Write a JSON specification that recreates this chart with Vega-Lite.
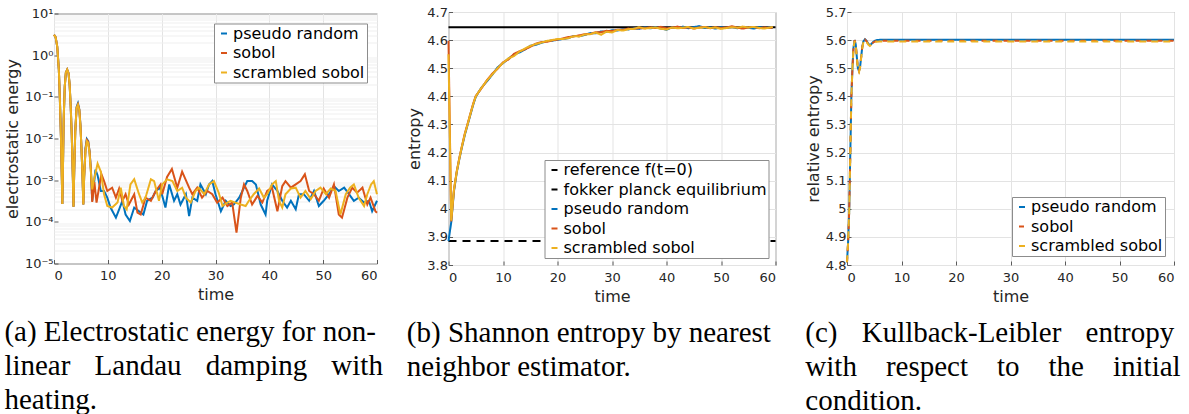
{
 "$schema": "https://vega.github.io/schema/vega-lite/v6.json",
 "background": "white",
 "padding": {"left": 3, "top": 5, "right": 5, "bottom": 0},
 "bounds": "flush",
 "spacing": 71.5,
 "center": true,
 "config": {
  "view": {"stroke": "#8c8c8c", "strokeWidth": 1},
  "axis": {"labelFont": "DejaVu Sans", "labelFontSize": 13, "labelColor": "#262626", "titleFont": "DejaVu Sans", "titleFontSize": 16, "titleFontWeight": "normal", "titleColor": "#262626", "domain": false, "grid": true, "gridColor": "#e3e3e3", "tickColor": "#5a5a5a", "tickSize": -4, "labelPadding": 5},
  "axisX": {"titlePadding": 4, "labelPadding": 10},
  "axisY": {"titlePadding": 4},
  "legend": {"labelFont": "DejaVu Sans", "labelFontSize": 16, "labelColor": "black", "symbolType": "stroke", "symbolStrokeWidth": 2, "symbolSize": 36, "padding": 2, "rowPadding": 3.5, "labelOffset": 1, "fillColor": "white", "strokeColor": "#8c8c8c", "labelLimit": 400},
  "title": {"font": "Liberation Serif", "fontSize": 29, "fontWeight": "normal", "color": "black", "orient": "bottom", "anchor": "start", "frame": "bounds", "lineHeight": 34, "offset": 15},
  "line": {"strokeWidth": 2}
 },
 "resolve": {"scale": {"x": "independent", "y": "independent", "color": "independent", "strokeDash": "independent"}, "legend": {"color": "independent"}},
 "hconcat": [
  {
   "width": 323, "height": 250,
   "title": {"text": ["(a) Electrostatic energy for non-", "linear\u2002\u2004Landau\u2002\u2004damping\u2002\u2004with", "heating."]},
   "data": {"values": [
    {"s":"pseudo random","t":0,"v":3.1},{"s":"pseudo random","t":0.3,"v":2.7},{"s":"pseudo random","t":0.6,"v":1.6},{"s":"pseudo random","t":0.9,"v":0.45},{"s":"pseudo random","t":1.1,"v":0.08},{"s":"pseudo random","t":1.3,"v":0.01},{"s":"pseudo random","t":1.45,"v":0.0012},{"s":"pseudo random","t":1.55,"v":0.00027},{"s":"pseudo random","t":1.65,"v":0.0015},{"s":"pseudo random","t":1.8,"v":0.03},{"s":"pseudo random","t":2.0,"v":0.18},{"s":"pseudo random","t":2.2,"v":0.38},{"s":"pseudo random","t":2.45,"v":0.45},{"s":"pseudo random","t":2.7,"v":0.37},{"s":"pseudo random","t":2.9,"v":0.2},{"s":"pseudo random","t":3.1,"v":0.06},{"s":"pseudo random","t":3.3,"v":0.012},{"s":"pseudo random","t":3.5,"v":0.0012},{"s":"pseudo random","t":3.62,"v":0.00023},{"s":"pseudo random","t":3.75,"v":0.0015},{"s":"pseudo random","t":3.95,"v":0.015},{"s":"pseudo random","t":4.2,"v":0.057},{"s":"pseudo random","t":4.45,"v":0.07},{"s":"pseudo random","t":4.7,"v":0.05},{"s":"pseudo random","t":4.9,"v":0.022},{"s":"pseudo random","t":5.1,"v":0.006},{"s":"pseudo random","t":5.3,"v":0.0012},{"s":"pseudo random","t":5.45,"v":0.00026},{"s":"pseudo random","t":5.6,"v":0.0012},{"s":"pseudo random","t":5.85,"v":0.0058},{"s":"pseudo random","t":6.1,"v":0.0097},{"s":"pseudo random","t":6.35,"v":0.0087},{"s":"pseudo random","t":6.6,"v":0.005},{"s":"pseudo random","t":6.85,"v":0.0018},
    {"s":"pseudo random","t":7.1,"v":0.00032},{"s":"pseudo random","t":7.7,"v":0.0018},{"s":"pseudo random","t":8.1,"v":0.0013},{"s":"pseudo random","t":8.7,"v":0.00055},{"s":"pseudo random","t":9.3,"v":0.00055},{"s":"pseudo random","t":9.9,"v":0.00038},{"s":"pseudo random","t":10.5,"v":0.00022},{"s":"pseudo random","t":11.5,"v":0.000126},{"s":"pseudo random","t":12.1,"v":0.0002},{"s":"pseudo random","t":12.7,"v":0.00032},{"s":"pseudo random","t":13.3,"v":0.00015},{"s":"pseudo random","t":14.1,"v":0.000105},{"s":"pseudo random","t":14.9,"v":0.00022},{"s":"pseudo random","t":15.8,"v":0.00018},{"s":"pseudo random","t":16.6,"v":0.00015},{"s":"pseudo random","t":17.3,"v":0.00032},{"s":"pseudo random","t":18.3,"v":0.00038},{"s":"pseudo random","t":18.9,"v":0.00055},{"s":"pseudo random","t":19.7,"v":0.00066},{"s":"pseudo random","t":20.7,"v":0.00022},{"s":"pseudo random","t":21.4,"v":0.00079},{"s":"pseudo random","t":22.3,"v":0.00032},{"s":"pseudo random","t":22.9,"v":0.00046},{"s":"pseudo random","t":23.5,"v":0.00026},{"s":"pseudo random","t":24.5,"v":0.00046},{"s":"pseudo random","t":25.1,"v":0.000138},{"s":"pseudo random","t":25.7,"v":0.00038},{"s":"pseudo random","t":26.6,"v":0.00032},{"s":"pseudo random","t":27.2,"v":0.00079},{"s":"pseudo random","t":28.2,"v":0.00046},{"s":"pseudo random","t":28.8,"v":0.00079},{"s":"pseudo random","t":29.4,"v":0.00095},{"s":"pseudo random","t":30.0,"v":0.00046},{"s":"pseudo random","t":31.0,"v":0.00018},{"s":"pseudo random","t":31.9,"v":0.00032},{"s":"pseudo random","t":32.8,"v":0.00024},{"s":"pseudo random","t":33.4,"v":0.00026},{"s":"pseudo random","t":34.4,"v":0.00038},{"s":"pseudo random","t":35.3,"v":0.00066},{"s":"pseudo random","t":35.9,"v":0.00095},{"s":"pseudo random","t":36.8,"v":0.00095},{"s":"pseudo random","t":37.5,"v":0.00079},{"s":"pseudo random","t":38.4,"v":0.00026},{"s":"pseudo random","t":39.3,"v":0.00015},{"s":"pseudo random","t":39.6,"v":0.00032},{"s":"pseudo random","t":40.5,"v":0.00079},{"s":"pseudo random","t":41.5,"v":0.00055},{"s":"pseudo random","t":42.4,"v":0.00032},{"s":"pseudo random","t":43.3,"v":0.00022},{"s":"pseudo random","t":44.0,"v":0.00032},{"s":"pseudo random","t":44.9,"v":0.0002},{"s":"pseudo random","t":45.5,"v":0.00046},{"s":"pseudo random","t":46.4,"v":0.00046},{"s":"pseudo random","t":47.4,"v":0.00032},{"s":"pseudo random","t":48.3,"v":0.00055},{"s":"pseudo random","t":49.2,"v":0.00024},{"s":"pseudo random","t":50.1,"v":0.00032},{"s":"pseudo random","t":51.1,"v":0.00046},{"s":"pseudo random","t":52.0,"v":0.00072},{"s":"pseudo random","t":52.9,"v":0.00055},{"s":"pseudo random","t":53.9,"v":0.00066},{"s":"pseudo random","t":54.8,"v":0.00046},{"s":"pseudo random","t":55.7,"v":0.00032},{"s":"pseudo random","t":56.6,"v":0.00038},{"s":"pseudo random","t":57.6,"v":0.00029},{"s":"pseudo random","t":58.5,"v":0.00032},{"s":"pseudo random","t":59.1,"v":0.00018},{"s":"pseudo random","t":60,"v":0.00032},
    {"s":"sobol","t":0,"v":3.1},{"s":"sobol","t":0.3,"v":2.7},{"s":"sobol","t":0.6,"v":1.6},{"s":"sobol","t":0.9,"v":0.45},{"s":"sobol","t":1.1,"v":0.08},{"s":"sobol","t":1.3,"v":0.01},{"s":"sobol","t":1.45,"v":0.0012},{"s":"sobol","t":1.55,"v":0.00027},{"s":"sobol","t":1.65,"v":0.0015},{"s":"sobol","t":1.8,"v":0.03},{"s":"sobol","t":2.0,"v":0.18},{"s":"sobol","t":2.2,"v":0.38},{"s":"sobol","t":2.45,"v":0.45},{"s":"sobol","t":2.7,"v":0.37},{"s":"sobol","t":2.9,"v":0.2},{"s":"sobol","t":3.1,"v":0.06},{"s":"sobol","t":3.3,"v":0.012},{"s":"sobol","t":3.5,"v":0.0012},{"s":"sobol","t":3.62,"v":0.00023},{"s":"sobol","t":3.75,"v":0.0015},{"s":"sobol","t":3.95,"v":0.015},{"s":"sobol","t":4.2,"v":0.055},{"s":"sobol","t":4.45,"v":0.066},{"s":"sobol","t":4.7,"v":0.05},{"s":"sobol","t":4.9,"v":0.022},{"s":"sobol","t":5.1,"v":0.006},{"s":"sobol","t":5.3,"v":0.0012},{"s":"sobol","t":5.45,"v":0.00026},{"s":"sobol","t":5.6,"v":0.0012},{"s":"sobol","t":5.85,"v":0.0055},{"s":"sobol","t":6.1,"v":0.0092},{"s":"sobol","t":6.35,"v":0.0084},{"s":"sobol","t":6.6,"v":0.005},{"s":"sobol","t":6.85,"v":0.0018},
    {"s":"sobol","t":7.1,"v":0.0003},{"s":"sobol","t":7.5,"v":0.0009},{"s":"sobol","t":7.9,"v":0.00029},{"s":"sobol","t":8.8,"v":0.0014},{"s":"sobol","t":9.3,"v":0.00095},{"s":"sobol","t":9.9,"v":0.00055},{"s":"sobol","t":10.8,"v":0.00066},{"s":"sobol","t":11.5,"v":0.00038},{"s":"sobol","t":12.1,"v":0.00063},{"s":"sobol","t":12.7,"v":0.00032},{"s":"sobol","t":13.3,"v":0.00046},{"s":"sobol","t":13.9,"v":0.00026},{"s":"sobol","t":14.9,"v":0.00046},{"s":"sobol","t":15.5,"v":0.000166},{"s":"sobol","t":16.1,"v":0.00015},{"s":"sobol","t":17.0,"v":0.00038},{"s":"sobol","t":18.0,"v":0.00032},{"s":"sobol","t":18.9,"v":0.00055},{"s":"sobol","t":19.8,"v":0.00079},{"s":"sobol","t":20.1,"v":0.00046},{"s":"sobol","t":21.0,"v":0.0012},{"s":"sobol","t":21.9,"v":0.00185},{"s":"sobol","t":22.9,"v":0.00066},{"s":"sobol","t":23.8,"v":0.0016},{"s":"sobol","t":25.1,"v":0.00066},{"s":"sobol","t":25.7,"v":0.00046},{"s":"sobol","t":26.6,"v":0.00066},{"s":"sobol","t":27.5,"v":0.00038},{"s":"sobol","t":28.5,"v":0.00055},{"s":"sobol","t":29.4,"v":0.00046},{"s":"sobol","t":30.3,"v":0.00029},{"s":"sobol","t":31.3,"v":0.00038},{"s":"sobol","t":32.2,"v":0.00024},{"s":"sobol","t":33.1,"v":0.00029},{"s":"sobol","t":33.9,"v":0.000055},{"s":"sobol","t":34.7,"v":0.00038},{"s":"sobol","t":35.3,"v":0.00079},{"s":"sobol","t":35.9,"v":0.00055},{"s":"sobol","t":36.8,"v":0.00026},{"s":"sobol","t":37.8,"v":0.00042},{"s":"sobol","t":38.7,"v":0.00029},{"s":"sobol","t":39.6,"v":0.00055},{"s":"sobol","t":40.5,"v":0.00066},{"s":"sobol","t":41.5,"v":0.00018},{"s":"sobol","t":42.4,"v":0.00072},{"s":"sobol","t":43.0,"v":0.00095},{"s":"sobol","t":44.0,"v":0.00066},{"s":"sobol","t":44.9,"v":0.00079},{"s":"sobol","t":45.8,"v":0.00095},{"s":"sobol","t":46.6,"v":0.00138},{"s":"sobol","t":47.4,"v":0.00055},{"s":"sobol","t":48.3,"v":0.00046},{"s":"sobol","t":49.2,"v":0.00032},{"s":"sobol","t":50.1,"v":0.00063},{"s":"sobol","t":51.1,"v":0.00038},{"s":"sobol","t":52.0,"v":0.00079},{"s":"sobol","t":52.9,"v":0.00015},{"s":"sobol","t":53.5,"v":0.000126},{"s":"sobol","t":54.5,"v":0.00038},{"s":"sobol","t":55.4,"v":0.00066},{"s":"sobol","t":56.3,"v":0.0005},{"s":"sobol","t":57.3,"v":0.00066},{"s":"sobol","t":58.2,"v":0.00026},{"s":"sobol","t":58.8,"v":0.00038},{"s":"sobol","t":59.7,"v":0.00018},{"s":"sobol","t":60,"v":0.000166},
    {"s":"scrambled sobol","t":0,"v":3.1},{"s":"scrambled sobol","t":0.3,"v":2.7},{"s":"scrambled sobol","t":0.6,"v":1.6},{"s":"scrambled sobol","t":0.9,"v":0.45},{"s":"scrambled sobol","t":1.1,"v":0.08},{"s":"scrambled sobol","t":1.3,"v":0.01},{"s":"scrambled sobol","t":1.45,"v":0.0012},{"s":"scrambled sobol","t":1.55,"v":0.00027},{"s":"scrambled sobol","t":1.65,"v":0.0015},{"s":"scrambled sobol","t":1.8,"v":0.03},{"s":"scrambled sobol","t":2.0,"v":0.18},{"s":"scrambled sobol","t":2.2,"v":0.38},{"s":"scrambled sobol","t":2.45,"v":0.45},{"s":"scrambled sobol","t":2.7,"v":0.37},{"s":"scrambled sobol","t":2.9,"v":0.2},{"s":"scrambled sobol","t":3.1,"v":0.06},{"s":"scrambled sobol","t":3.3,"v":0.012},{"s":"scrambled sobol","t":3.5,"v":0.0012},{"s":"scrambled sobol","t":3.62,"v":0.00023},{"s":"scrambled sobol","t":3.75,"v":0.0015},{"s":"scrambled sobol","t":3.95,"v":0.015},{"s":"scrambled sobol","t":4.2,"v":0.054},{"s":"scrambled sobol","t":4.45,"v":0.064},{"s":"scrambled sobol","t":4.7,"v":0.048},{"s":"scrambled sobol","t":4.9,"v":0.021},{"s":"scrambled sobol","t":5.1,"v":0.006},{"s":"scrambled sobol","t":5.3,"v":0.0012},{"s":"scrambled sobol","t":5.45,"v":0.00026},{"s":"scrambled sobol","t":5.6,"v":0.0012},{"s":"scrambled sobol","t":5.85,"v":0.0052},{"s":"scrambled sobol","t":6.1,"v":0.0086},{"s":"scrambled sobol","t":6.35,"v":0.0078},{"s":"scrambled sobol","t":6.6,"v":0.0045},{"s":"scrambled sobol","t":6.85,"v":0.0016},
    {"s":"scrambled sobol","t":7.1,"v":0.0006},{"s":"scrambled sobol","t":7.4,"v":0.001},{"s":"scrambled sobol","t":8.1,"v":0.0025},{"s":"scrambled sobol","t":8.7,"v":0.0016},{"s":"scrambled sobol","t":9.3,"v":0.00046},{"s":"scrambled sobol","t":9.9,"v":0.00024},{"s":"scrambled sobol","t":10.8,"v":0.00022},{"s":"scrambled sobol","t":11.8,"v":0.00029},{"s":"scrambled sobol","t":12.4,"v":0.00066},{"s":"scrambled sobol","t":13.0,"v":0.00024},{"s":"scrambled sobol","t":13.5,"v":0.0002},{"s":"scrambled sobol","t":14.2,"v":0.00079},{"s":"scrambled sobol","t":14.9,"v":0.00105},{"s":"scrambled sobol","t":15.8,"v":0.00046},{"s":"scrambled sobol","t":16.4,"v":0.00029},{"s":"scrambled sobol","t":17.0,"v":0.00038},{"s":"scrambled sobol","t":18.0,"v":0.00105},{"s":"scrambled sobol","t":18.6,"v":0.00095},{"s":"scrambled sobol","t":19.5,"v":0.00032},{"s":"scrambled sobol","t":20.1,"v":0.00079},{"s":"scrambled sobol","t":21.0,"v":0.00105},{"s":"scrambled sobol","t":22.0,"v":0.00095},{"s":"scrambled sobol","t":22.9,"v":0.00055},{"s":"scrambled sobol","t":23.8,"v":0.00066},{"s":"scrambled sobol","t":24.5,"v":0.00038},{"s":"scrambled sobol","t":25.4,"v":0.00029},{"s":"scrambled sobol","t":26.3,"v":0.00055},{"s":"scrambled sobol","t":26.9,"v":0.00066},{"s":"scrambled sobol","t":27.9,"v":0.00046},{"s":"scrambled sobol","t":28.8,"v":0.00079},{"s":"scrambled sobol","t":29.7,"v":0.00095},{"s":"scrambled sobol","t":30.6,"v":0.0005},{"s":"scrambled sobol","t":31.3,"v":0.00024},{"s":"scrambled sobol","t":32.2,"v":0.00029},{"s":"scrambled sobol","t":32.8,"v":0.00032},{"s":"scrambled sobol","t":33.7,"v":0.00029},{"s":"scrambled sobol","t":34.7,"v":0.00026},{"s":"scrambled sobol","t":35.6,"v":0.00024},{"s":"scrambled sobol","t":36.2,"v":0.00032},{"s":"scrambled sobol","t":37.1,"v":0.00046},{"s":"scrambled sobol","t":38.1,"v":0.00063},{"s":"scrambled sobol","t":39.0,"v":0.00038},{"s":"scrambled sobol","t":39.6,"v":0.00046},{"s":"scrambled sobol","t":40.5,"v":0.00079},{"s":"scrambled sobol","t":41.2,"v":0.00095},{"s":"scrambled sobol","t":41.8,"v":0.00032},{"s":"scrambled sobol","t":42.4,"v":0.00022},{"s":"scrambled sobol","t":43.0,"v":0.00046},{"s":"scrambled sobol","t":44.0,"v":0.00063},{"s":"scrambled sobol","t":44.9,"v":0.00066},{"s":"scrambled sobol","t":45.8,"v":0.00038},{"s":"scrambled sobol","t":46.7,"v":0.00055},{"s":"scrambled sobol","t":47.7,"v":0.00035},{"s":"scrambled sobol","t":48.6,"v":0.00055},{"s":"scrambled sobol","t":49.5,"v":0.00066},{"s":"scrambled sobol","t":50.5,"v":0.00046},{"s":"scrambled sobol","t":51.4,"v":0.00063},{"s":"scrambled sobol","t":52.3,"v":0.00055},{"s":"scrambled sobol","t":53.2,"v":0.00015},{"s":"scrambled sobol","t":54.2,"v":0.00046},{"s":"scrambled sobol","t":55.0,"v":0.00066},{"s":"scrambled sobol","t":55.7,"v":0.00079},{"s":"scrambled sobol","t":56.6,"v":0.00038},{"s":"scrambled sobol","t":57.6,"v":0.00024},{"s":"scrambled sobol","t":58.2,"v":0.00046},{"s":"scrambled sobol","t":58.9,"v":0.00079},{"s":"scrambled sobol","t":59.4,"v":0.00095},{"s":"scrambled sobol","t":60,"v":0.00046}
   ]},
   "encoding": {
    "x": {"field": "t", "type": "quantitative", "scale": {"domain": [0, 60], "nice": false}, "axis": {"values": [0, 10, 20, 30, 40, 50, 60], "title": "time"}}
   },
   "layer": [
    {
     "mark": {"type": "line", "opacity": 0},
     "encoding": {
      "y": {"field": "v", "type": "quantitative", "scale": {"type": "log", "domain": [0.00001, 10], "nice": false}, "axis": {"orient": "right", "values": [0.00002,0.00003,0.00004,0.00005,0.00006,0.00007,0.00008,0.00009,0.0002,0.0003,0.0004,0.0005,0.0006,0.0007,0.0008,0.0009,0.002,0.003,0.004,0.005,0.006,0.007,0.008,0.009,0.02,0.03,0.04,0.05,0.06,0.07,0.08,0.09,0.2,0.3,0.4,0.5,0.6,0.7,0.8,0.9,2,3,4,5,6,7,8,9], "grid": true, "gridColor": "#efefef", "labels": false, "ticks": false, "domain": false, "title": null}}
     }
    },
    {
     "mark": {"type": "line", "strokeWidth": 2},
     "encoding": {
      "y": {"field": "v", "type": "quantitative", "scale": {"type": "log", "domain": [0.00001, 10], "nice": false}, "axis": {"orient": "left", "values": [0.00001, 0.0001, 0.001, 0.01, 0.1, 1, 10], "title": "electrostatic energy", "labelExpr": "'10' + replace(replace(replace(replace(replace(replace(replace('' + round(log(datum.value)/LN10), '-', '⁻'), '0', '⁰'), '1', '¹'), '2', '²'), '3', '³'), '4', '⁴'), '5', '⁵')"}},
      "color": {"field": "s", "type": "nominal", "sort": null, "scale": {"domain": ["pseudo random", "sobol", "scrambled sobol"], "range": ["#0072BD", "#D95319", "#EDB120"]}, "legend": {"title": null, "orient": "top-right", "offset": 10, "labelExpr": "datum.label + '\u00a0\u00a0\u00a0'"}}
     }
    }
   ],
   "resolve": {"axis": {"y": "independent"}}
  },
  {
   "width": 327, "height": 253,
   "title": {"text": ["(b) Shannon entropy by nearest", "neighbor estimator."]},
   "data": {"values": [
    {"s":"reference f(t=0)","t":0,"v":3.885},{"s":"reference f(t=0)","t":60,"v":3.885},
    {"s":"fokker planck equilibrium","t":0,"v":4.646},{"s":"fokker planck equilibrium","t":60,"v":4.646},
    {"s":"pseudo random","t":0,"v":3.885},{"s":"pseudo random","t":0.5,"v":3.952},{"s":"pseudo random","t":1,"v":4.062},{"s":"pseudo random","t":1.5,"v":4.128},{"s":"pseudo random","t":2,"v":4.178},{"s":"pseudo random","t":2.5,"v":4.222},{"s":"pseudo random","t":3,"v":4.263},{"s":"pseudo random","t":3.5,"v":4.298},{"s":"pseudo random","t":4,"v":4.333},{"s":"pseudo random","t":4.5,"v":4.368},{"s":"pseudo random","t":5,"v":4.398},{"s":"pseudo random","t":6,"v":4.43},{"s":"pseudo random","t":7,"v":4.452},{"s":"pseudo random","t":8,"v":4.476},{"s":"pseudo random","t":9,"v":4.503},{"s":"pseudo random","t":10,"v":4.518},{"s":"pseudo random","t":11,"v":4.534},{"s":"pseudo random","t":12,"v":4.548},{"s":"pseudo random","t":13,"v":4.556},{"s":"pseudo random","t":14,"v":4.566},{"s":"pseudo random","t":15,"v":4.58},{"s":"pseudo random","t":16,"v":4.583},{"s":"pseudo random","t":17,"v":4.59},{"s":"pseudo random","t":18,"v":4.596},{"s":"pseudo random","t":19,"v":4.598},{"s":"pseudo random","t":20,"v":4.601},{"s":"pseudo random","t":21,"v":4.604},{"s":"pseudo random","t":22,"v":4.607},{"s":"pseudo random","t":23,"v":4.615},{"s":"pseudo random","t":24,"v":4.614},{"s":"pseudo random","t":25,"v":4.618},{"s":"pseudo random","t":26,"v":4.625},{"s":"pseudo random","t":27,"v":4.624},{"s":"pseudo random","t":28,"v":4.631},{"s":"pseudo random","t":29,"v":4.629},{"s":"pseudo random","t":30,"v":4.635},{"s":"pseudo random","t":31,"v":4.634},{"s":"pseudo random","t":32,"v":4.639},{"s":"pseudo random","t":33,"v":4.638},{"s":"pseudo random","t":34,"v":4.642},{"s":"pseudo random","t":35,"v":4.64},{"s":"pseudo random","t":36,"v":4.645},{"s":"pseudo random","t":37,"v":4.642},{"s":"pseudo random","t":38,"v":4.646},{"s":"pseudo random","t":39,"v":4.641},{"s":"pseudo random","t":40,"v":4.637},{"s":"pseudo random","t":41,"v":4.645},{"s":"pseudo random","t":42,"v":4.643},{"s":"pseudo random","t":43,"v":4.648},{"s":"pseudo random","t":44,"v":4.642},{"s":"pseudo random","t":45,"v":4.646},{"s":"pseudo random","t":46,"v":4.65},{"s":"pseudo random","t":47,"v":4.643},{"s":"pseudo random","t":48,"v":4.645},{"s":"pseudo random","t":49,"v":4.641},{"s":"pseudo random","t":50,"v":4.646},{"s":"pseudo random","t":51,"v":4.643},{"s":"pseudo random","t":52,"v":4.647},{"s":"pseudo random","t":53,"v":4.642},{"s":"pseudo random","t":54,"v":4.646},{"s":"pseudo random","t":55,"v":4.644},{"s":"pseudo random","t":56,"v":4.641},{"s":"pseudo random","t":57,"v":4.646},{"s":"pseudo random","t":58,"v":4.643},{"s":"pseudo random","t":59,"v":4.645},{"s":"pseudo random","t":59.5,"v":4.644},
    {"s":"sobol","t":0,"v":4.598},{"s":"sobol","t":0.5,"v":3.955},{"s":"sobol","t":1,"v":4.066},{"s":"sobol","t":1.5,"v":4.132},{"s":"sobol","t":2,"v":4.182},{"s":"sobol","t":2.5,"v":4.226},{"s":"sobol","t":3,"v":4.268},{"s":"sobol","t":3.5,"v":4.302},{"s":"sobol","t":4,"v":4.337},{"s":"sobol","t":4.5,"v":4.372},{"s":"sobol","t":5,"v":4.401},{"s":"sobol","t":6,"v":4.427},{"s":"sobol","t":7,"v":4.456},{"s":"sobol","t":8,"v":4.48},{"s":"sobol","t":9,"v":4.498},{"s":"sobol","t":10,"v":4.521},{"s":"sobol","t":11,"v":4.531},{"s":"sobol","t":12,"v":4.551},{"s":"sobol","t":13,"v":4.56},{"s":"sobol","t":14,"v":4.567},{"s":"sobol","t":15,"v":4.576},{"s":"sobol","t":16,"v":4.587},{"s":"sobol","t":17,"v":4.593},{"s":"sobol","t":18,"v":4.594},{"s":"sobol","t":19,"v":4.599},{"s":"sobol","t":20,"v":4.602},{"s":"sobol","t":21,"v":4.606},{"s":"sobol","t":22,"v":4.611},{"s":"sobol","t":23,"v":4.613},{"s":"sobol","t":24,"v":4.617},{"s":"sobol","t":25,"v":4.621},{"s":"sobol","t":26,"v":4.622},{"s":"sobol","t":27,"v":4.628},{"s":"sobol","t":28,"v":4.628},{"s":"sobol","t":29,"v":4.633},{"s":"sobol","t":30,"v":4.632},{"s":"sobol","t":31,"v":4.637},{"s":"sobol","t":32,"v":4.637},{"s":"sobol","t":33,"v":4.641},{"s":"sobol","t":34,"v":4.64},{"s":"sobol","t":35,"v":4.643},{"s":"sobol","t":36,"v":4.642},{"s":"sobol","t":37,"v":4.645},{"s":"sobol","t":38,"v":4.643},{"s":"sobol","t":39,"v":4.647},{"s":"sobol","t":40,"v":4.642},{"s":"sobol","t":41,"v":4.644},{"s":"sobol","t":42,"v":4.648},{"s":"sobol","t":43,"v":4.643},{"s":"sobol","t":44,"v":4.645},{"s":"sobol","t":45,"v":4.641},{"s":"sobol","t":46,"v":4.645},{"s":"sobol","t":47,"v":4.647},{"s":"sobol","t":48,"v":4.642},{"s":"sobol","t":49,"v":4.646},{"s":"sobol","t":50,"v":4.643},{"s":"sobol","t":51,"v":4.645},{"s":"sobol","t":52,"v":4.649},{"s":"sobol","t":53,"v":4.644},{"s":"sobol","t":54,"v":4.641},{"s":"sobol","t":55,"v":4.645},{"s":"sobol","t":56,"v":4.647},{"s":"sobol","t":57,"v":4.642},{"s":"sobol","t":58,"v":4.645},{"s":"sobol","t":59,"v":4.643},{"s":"sobol","t":59.5,"v":4.645},
    {"s":"scrambled sobol","t":0,"v":4.55},{"s":"scrambled sobol","t":0.5,"v":3.958},{"s":"scrambled sobol","t":1,"v":4.068},{"s":"scrambled sobol","t":1.5,"v":4.13},{"s":"scrambled sobol","t":2,"v":4.18},{"s":"scrambled sobol","t":2.5,"v":4.225},{"s":"scrambled sobol","t":3,"v":4.266},{"s":"scrambled sobol","t":3.5,"v":4.3},{"s":"scrambled sobol","t":4,"v":4.336},{"s":"scrambled sobol","t":4.5,"v":4.37},{"s":"scrambled sobol","t":5,"v":4.4},{"s":"scrambled sobol","t":6,"v":4.429},{"s":"scrambled sobol","t":7,"v":4.455},{"s":"scrambled sobol","t":8,"v":4.477},{"s":"scrambled sobol","t":9,"v":4.5},{"s":"scrambled sobol","t":10,"v":4.519},{"s":"scrambled sobol","t":11,"v":4.535},{"s":"scrambled sobol","t":12,"v":4.543},{"s":"scrambled sobol","t":13,"v":4.559},{"s":"scrambled sobol","t":14,"v":4.57},{"s":"scrambled sobol","t":15,"v":4.579},{"s":"scrambled sobol","t":16,"v":4.586},{"s":"scrambled sobol","t":17,"v":4.591},{"s":"scrambled sobol","t":18,"v":4.597},{"s":"scrambled sobol","t":19,"v":4.6},{"s":"scrambled sobol","t":20,"v":4.604},{"s":"scrambled sobol","t":21,"v":4.604},{"s":"scrambled sobol","t":22,"v":4.607},{"s":"scrambled sobol","t":23,"v":4.614},{"s":"scrambled sobol","t":24,"v":4.613},{"s":"scrambled sobol","t":25,"v":4.62},{"s":"scrambled sobol","t":26,"v":4.621},{"s":"scrambled sobol","t":27,"v":4.627},{"s":"scrambled sobol","t":28,"v":4.619},{"s":"scrambled sobol","t":29,"v":4.63},{"s":"scrambled sobol","t":30,"v":4.627},{"s":"scrambled sobol","t":31,"v":4.636},{"s":"scrambled sobol","t":32,"v":4.634},{"s":"scrambled sobol","t":33,"v":4.639},{"s":"scrambled sobol","t":34,"v":4.64},{"s":"scrambled sobol","t":35,"v":4.646},{"s":"scrambled sobol","t":36,"v":4.641},{"s":"scrambled sobol","t":37,"v":4.643},{"s":"scrambled sobol","t":38,"v":4.645},{"s":"scrambled sobol","t":39,"v":4.64},{"s":"scrambled sobol","t":40,"v":4.638},{"s":"scrambled sobol","t":41,"v":4.645},{"s":"scrambled sobol","t":42,"v":4.642},{"s":"scrambled sobol","t":43,"v":4.644},{"s":"scrambled sobol","t":44,"v":4.647},{"s":"scrambled sobol","t":45,"v":4.641},{"s":"scrambled sobol","t":46,"v":4.644},{"s":"scrambled sobol","t":47,"v":4.646},{"s":"scrambled sobol","t":48,"v":4.643},{"s":"scrambled sobol","t":49,"v":4.645},{"s":"scrambled sobol","t":50,"v":4.64},{"s":"scrambled sobol","t":51,"v":4.643},{"s":"scrambled sobol","t":52,"v":4.646},{"s":"scrambled sobol","t":53,"v":4.644},{"s":"scrambled sobol","t":54,"v":4.648},{"s":"scrambled sobol","t":55,"v":4.645},{"s":"scrambled sobol","t":56,"v":4.647},{"s":"scrambled sobol","t":57,"v":4.643},{"s":"scrambled sobol","t":58,"v":4.641},{"s":"scrambled sobol","t":59,"v":4.645},{"s":"scrambled sobol","t":59.5,"v":4.647}
   ]},
   "mark": {"type": "line", "strokeWidth": 2},
   "encoding": {
    "x": {"field": "t", "type": "quantitative", "scale": {"domain": [0, 60], "nice": false}, "axis": {"values": [0, 10, 20, 30, 40, 50, 60], "title": "time"}},
    "y": {"field": "v", "type": "quantitative", "scale": {"domain": [3.8, 4.7], "nice": false, "zero": false}, "axis": {"values": [3.8, 3.9, 4, 4.1, 4.2, 4.3, 4.4, 4.5, 4.6, 4.7], "format": ".1~f", "title": "entropy"}},
    "color": {"field": "s", "type": "nominal", "sort": null, "scale": {"domain": ["reference f(t=0)", "fokker planck equilibrium", "pseudo random", "sobol", "scrambled sobol"], "range": ["#000000", "#000000", "#0072BD", "#D95319", "#EDB120"]}, "legend": {"title": null, "orient": "bottom-right", "offset": 7, "labelExpr": "datum.label + '\u00a0\u00a0\u00a0'"}},
    "strokeDash": {"field": "s", "type": "nominal", "sort": null, "scale": {"domain": ["reference f(t=0)", "fokker planck equilibrium", "pseudo random", "sobol", "scrambled sobol"], "range": [[8, 6], [1, 0], [1, 0], [1, 0], [1, 0]]}, "legend": null}
   }
  },
  {
   "width": 327, "height": 253,
   "title": {"text": ["(c)\u2002\u2004Kullback-Leibler\u2002\u2004entropy", "with\u2003respect\u2003to\u2003the\u2003initial", "condition."]},
   "data": {"values": [
    {"s":"pseudo random","t":0,"v":4.81},{"s":"pseudo random","t":0.2,"v":4.88},{"s":"pseudo random","t":0.4,"v":4.99},{"s":"pseudo random","t":0.6,"v":5.19},{"s":"pseudo random","t":0.8,"v":5.4},{"s":"pseudo random","t":1.0,"v":5.5},{"s":"pseudo random","t":1.2,"v":5.575},{"s":"pseudo random","t":1.4,"v":5.6},{"s":"pseudo random","t":1.6,"v":5.585},{"s":"pseudo random","t":1.8,"v":5.54},{"s":"pseudo random","t":2.0,"v":5.5},{"s":"pseudo random","t":2.2,"v":5.49},{"s":"pseudo random","t":2.4,"v":5.505},{"s":"pseudo random","t":2.6,"v":5.54},{"s":"pseudo random","t":2.8,"v":5.575},{"s":"pseudo random","t":3.0,"v":5.595},{"s":"pseudo random","t":3.3,"v":5.603},{"s":"pseudo random","t":3.6,"v":5.597},{"s":"pseudo random","t":3.9,"v":5.587},{"s":"pseudo random","t":4.2,"v":5.582},{"s":"pseudo random","t":4.5,"v":5.587},{"s":"pseudo random","t":4.9,"v":5.595},{"s":"pseudo random","t":5.4,"v":5.6},{"s":"pseudo random","t":6,"v":5.601},{"s":"pseudo random","t":7,"v":5.601},{"s":"pseudo random","t":60,"v":5.601},
    {"s":"sobol","t":0,"v":4.81},{"s":"sobol","t":0.2,"v":4.88},{"s":"sobol","t":0.4,"v":4.99},{"s":"sobol","t":0.6,"v":5.19},{"s":"sobol","t":0.8,"v":5.4},{"s":"sobol","t":1.0,"v":5.5},{"s":"sobol","t":1.2,"v":5.575},{"s":"sobol","t":1.4,"v":5.6},{"s":"sobol","t":1.6,"v":5.585},{"s":"sobol","t":1.8,"v":5.54},{"s":"sobol","t":2.0,"v":5.5},{"s":"sobol","t":2.2,"v":5.49},{"s":"sobol","t":2.4,"v":5.505},{"s":"sobol","t":2.6,"v":5.54},{"s":"sobol","t":2.8,"v":5.575},{"s":"sobol","t":3.0,"v":5.595},{"s":"sobol","t":3.3,"v":5.602},{"s":"sobol","t":3.6,"v":5.596},{"s":"sobol","t":3.9,"v":5.586},{"s":"sobol","t":4.2,"v":5.581},{"s":"sobol","t":4.5,"v":5.586},{"s":"sobol","t":4.9,"v":5.593},{"s":"sobol","t":5.4,"v":5.597},{"s":"sobol","t":6,"v":5.598},{"s":"sobol","t":7,"v":5.598},{"s":"sobol","t":60,"v":5.598},
    {"s":"scrambled sobol","t":0,"v":4.81},{"s":"scrambled sobol","t":0.2,"v":4.88},{"s":"scrambled sobol","t":0.4,"v":4.99},{"s":"scrambled sobol","t":0.6,"v":5.19},{"s":"scrambled sobol","t":0.8,"v":5.4},{"s":"scrambled sobol","t":1.0,"v":5.5},{"s":"scrambled sobol","t":1.2,"v":5.572},{"s":"scrambled sobol","t":1.4,"v":5.597},{"s":"scrambled sobol","t":1.6,"v":5.582},{"s":"scrambled sobol","t":1.8,"v":5.537},{"s":"scrambled sobol","t":2.0,"v":5.497},{"s":"scrambled sobol","t":2.2,"v":5.487},{"s":"scrambled sobol","t":2.4,"v":5.502},{"s":"scrambled sobol","t":2.6,"v":5.537},{"s":"scrambled sobol","t":2.8,"v":5.572},{"s":"scrambled sobol","t":3.0,"v":5.592},{"s":"scrambled sobol","t":3.3,"v":5.6},{"s":"scrambled sobol","t":3.6,"v":5.594},{"s":"scrambled sobol","t":3.9,"v":5.584},{"s":"scrambled sobol","t":4.2,"v":5.579},{"s":"scrambled sobol","t":4.5,"v":5.584},{"s":"scrambled sobol","t":4.9,"v":5.591},{"s":"scrambled sobol","t":5.4,"v":5.594},{"s":"scrambled sobol","t":6,"v":5.595},{"s":"scrambled sobol","t":7,"v":5.595},{"s":"scrambled sobol","t":60,"v":5.595}
   ]},
   "mark": {"type": "line", "strokeWidth": 2},
   "encoding": {
    "x": {"field": "t", "type": "quantitative", "scale": {"domain": [0, 60], "nice": false}, "axis": {"values": [0, 10, 20, 30, 40, 50, 60], "title": "time"}},
    "y": {"field": "v", "type": "quantitative", "scale": {"domain": [4.8, 5.7], "nice": false, "zero": false}, "axis": {"values": [4.8, 4.9, 5, 5.1, 5.2, 5.3, 5.4, 5.5, 5.6, 5.7], "format": ".1~f", "title": "relative entropy"}},
    "color": {"field": "s", "type": "nominal", "sort": null, "scale": {"domain": ["pseudo random", "sobol", "scrambled sobol"], "range": ["#0072BD", "#D95319", "#EDB120"]}, "legend": {"title": null, "orient": "bottom-right", "offset": 9, "labelExpr": "datum.label + '\u00a0\u00a0\u00a0'"}},
    "strokeDash": {"field": "s", "type": "nominal", "sort": null, "scale": {"domain": ["pseudo random", "sobol", "scrambled sobol"], "range": [[1, 0], [5, 6], [7, 5]]}, "legend": null}
   }
  }
 ]
}
